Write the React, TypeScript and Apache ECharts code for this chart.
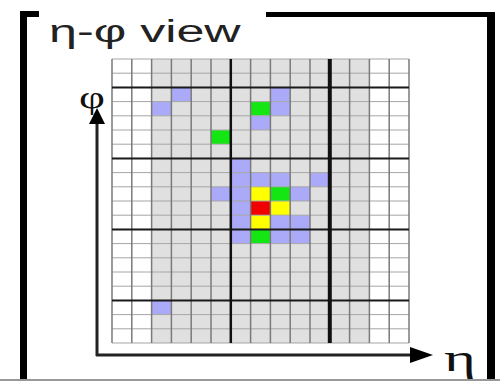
import React, { useEffect, useRef } from 'react';
import * as echarts from 'echarts';

// ---- data ----
const columnCount = 15; // η bins
const rowCount = 20; // φ bins
const shadedColumns = [2, 3, 4, 5, 6, 7, 8, 9, 10, 11, 12];
const blueCells = [
  [3, 2], [2, 3], [8, 2], [8, 3], [7, 4],
  [6, 7], [6, 8], [7, 8], [8, 8], [10, 8],
  [5, 9], [6, 9], [9, 9], [6, 10], [6, 11], [8, 11], [9, 11],
  [6, 12], [8, 12], [9, 12], [2, 17],
];
const greenCells = [[7, 3], [5, 5], [8, 9], [7, 12]];
const yellowCells = [[7, 9], [8, 10], [7, 11]];
const redCells = [[7, 10]];
const majorRows = [2, 7, 12, 17];
const majorColumns = [6, 11];
const titleText = 'η-φ view';
const xAxisName = 'η';
const yAxisName = 'φ';

// ---- styles ----
const colors = {
  white: '#ffffff',
  gray: '#e0e0e0',
  blue: '#aaaaf8',
  green: '#14e614',
  yellow: '#ffff00',
  red: '#f00000',
};

export default function App() {
  const ref = useRef<HTMLDivElement>(null);
  useEffect(() => {
    if (!ref.current) return;
    const chart = echarts.init(ref.current, null, { renderer: 'svg' });

    const colorMap = new Map<string, string>();
    blueCells.forEach(([c, r]) => colorMap.set(c + ',' + r, colors.blue));
    greenCells.forEach(([c, r]) => colorMap.set(c + ',' + r, colors.green));
    yellowCells.forEach(([c, r]) => colorMap.set(c + ',' + r, colors.yellow));
    redCells.forEach(([c, r]) => colorMap.set(c + ',' + r, colors.red));

    const cellData: any[] = [];
    for (let c = 0; c < columnCount; c++) {
      for (let r = 0; r < rowCount; r++) {
        const base = shadedColumns.includes(c) ? colors.gray : colors.white;
        cellData.push({ value: [c, r], itemStyle: { color: colorMap.get(c + ',' + r) || base } });
      }
    }

    type Seg = { v: number[]; color: string; width: number };
    const segs: Seg[] = [];
    for (let r = 0; r <= rowCount; r++) segs.push({ v: [0, r, columnCount, r], color: '#a6a6a6', width: 1 });
    for (let c = 0; c <= columnCount; c++) segs.push({ v: [c, 0, c, rowCount], color: '#7a7a7a', width: 1.5 });
    majorRows.forEach((r) => segs.push({ v: [0, r, columnCount, r], color: '#1a1a1a', width: 2 }));
    majorColumns.forEach((c) => segs.push({ v: [c, 0, c, rowCount], color: '#111111', width: c === 11 ? 4 : 2.5 }));

    chart.setOption({
      animation: false,
      grid: { left: 112, top: 59, width: 297, height: 284 },
      xAxis: { type: 'value', min: 0, max: columnCount, show: false },
      yAxis: { type: 'value', min: 0, max: rowCount, inverse: true, show: false },
      series: [
        {
          type: 'custom',
          z: 2,
          clip: false,
          data: cellData,
          renderItem: (params: any, api: any) => {
            const c = api.value(0);
            const r = api.value(1);
            const p1 = api.coord([c, r]);
            const p2 = api.coord([c + 1, r + 1]);
            return {
              type: 'rect',
              shape: { x: p1[0], y: Math.min(p1[1], p2[1]), width: p2[0] - p1[0], height: Math.abs(p2[1] - p1[1]) },
              style: { fill: api.visual('color') },
            };
          },
        },
        {
          type: 'custom',
          z: 3,
          clip: false,
          data: segs.map((s) => s.v),
          renderItem: (params: any, api: any) => {
            const s = segs[params.dataIndex];
            const p1 = api.coord([api.value(0), api.value(1)]);
            const p2 = api.coord([api.value(2), api.value(3)]);
            return {
              type: 'line',
              shape: { x1: p1[0], y1: p1[1], x2: p2[0], y2: p2[1] },
              style: { stroke: s.color, lineWidth: s.width },
            };
          },
        },
      ],
      graphic: [
        // frame
        { type: 'rect', shape: { x: 20, y: 11, width: 7, height: 370 }, style: { fill: '#000' } },
        { type: 'rect', shape: { x: 20, y: 11, width: 19, height: 6 }, style: { fill: '#000' } },
        { type: 'rect', shape: { x: 266, y: 12, width: 229, height: 5 }, style: { fill: '#000' } },
        { type: 'rect', shape: { x: 487, y: 12, width: 8, height: 369 }, style: { fill: '#000' } },
        { type: 'rect', shape: { x: 0, y: 379, width: 500, height: 2 }, style: { fill: '#999' } },
        // title
        {
          type: 'text',
          x: 49,
          y: 31,
          scaleX: 1.62,
          style: { text: titleText, x: 0, y: 0, align: 'left', verticalAlign: 'middle', font: '31px "Liberation Sans", Arial, sans-serif', fill: '#222' },
        },
        // φ axis
        { type: 'line', shape: { x1: 97, y1: 118, x2: 97, y2: 356 }, style: { stroke: '#222', lineWidth: 3 } },
        { type: 'polygon', shape: { points: [[97, 108], [89, 124], [105, 124]] }, style: { fill: '#000' } },
        {
          type: 'text',
          x: 92,
          y: 98,
          scaleX: 1.45,
          style: { text: yAxisName, x: 0, y: 0, align: 'center', verticalAlign: 'middle', font: '31px "Liberation Serif", "Times New Roman", serif', fill: '#111' },
        },
        // η axis
        { type: 'line', shape: { x1: 96, y1: 355, x2: 415, y2: 355 }, style: { stroke: '#222', lineWidth: 3 } },
        { type: 'polygon', shape: { points: [[433, 355], [410, 347], [410, 363]] }, style: { fill: '#000' } },
        {
          type: 'text',
          x: 460,
          y: 359,
          scaleX: 1.65,
          style: { text: xAxisName, x: 0, y: 0, align: 'center', verticalAlign: 'middle', font: '37px "Liberation Serif", "Times New Roman", serif', fill: '#111' },
        },
      ],
    });
    return () => chart.dispose();
  }, []);
  return <div ref={ref} style={{ position: 'fixed', left: 0, top: 0, width: 500, height: 381, background: '#fff' }} />;
}
